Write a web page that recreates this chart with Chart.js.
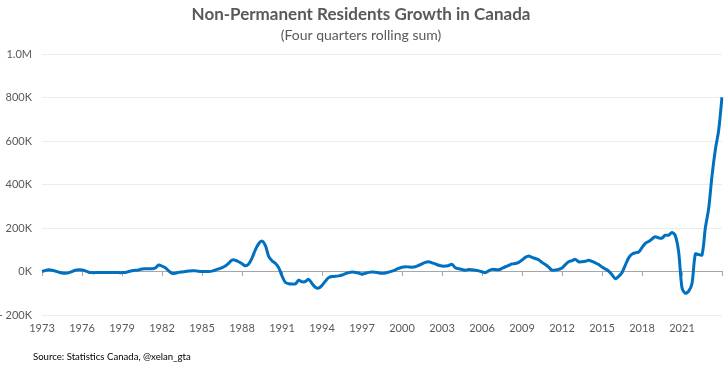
<!DOCTYPE html>
<html>
<head>
<meta charset="utf-8">
<script src="https://cdn.jsdelivr.net/npm/chart.js@4"></script>
<style>
  body { margin: 0; background: #fff; }
  #wrap { position: relative; width: 725px; height: 373px; }
  #source { position: absolute; left: 33px; top: 351px; font: 9.6px Lato, "Open Sans", sans-serif; color: #000; }
</style>
</head>
<body>
<div id="wrap">
  <canvas id="chart" width="725" height="373"></canvas>
  <div id="source">Source: Statistics Canada, @xelan_gta</div>
</div>
<script>
// quarterly data, first quarter of 1973 onwards
const startYear = 1973;

// tick labels on the x axis (every 12 quarters)
const tickYears = ['1973', '1976', '1979', '1982', '1985', '1988', '1991', '1994', '1997',
  '2000', '2003', '2006', '2009', '2012', '2015', '2018', '2021'];

// four quarters rolling sum of non-permanent residents, thousands
const nprGrowth = [
  0, 5, 8, 6, 2, -3, -7, -8, -6, 0,
  6, 8, 7, 3, -3, -5, -5, -5, -5, -5,
  -5, -5, -5, -5, -5, -4, 0, 4, 6, 7,
  12, 13, 13, 13, 16, 30, 25, 17, 3, -8,
  -8, -4, -2, 0, 2, 4, 3, 1, 0, 0,
  0, 2, 7, 12, 18, 25, 38, 53, 52, 45,
  36, 27, 35, 62, 100, 128, 140, 120, 70, 50,
  38, 18, -20, -50, -56, -57, -57, -40, -47, -46,
  -36, -55, -72, -76, -64, -45, -28, -23, -22, -20,
  -16, -10, -5, -2, -4, -7, -12, -8, -4, -2,
  -3, -6, -8, -7, -3, 2, 8, 15, 20, 22,
  21, 20, 22, 28, 35, 42, 45, 40, 35, 29,
  25, 25, 28, 33, 17, 13, 9, 6, 9, 8,
  6, 3, -1, -5, 3, 10, 9, 8, 15, 22,
  28, 35, 37, 42, 53, 65, 71, 65, 60, 54,
  42, 32, 20, 6, 7, 10, 16, 32, 45, 50,
  56, 45, 45, 47, 52, 47, 40, 32, 21, 12,
  2, -15, -33, -22, -5, 30, 63, 80, 86, 90,
  110, 130, 138, 150, 160, 155, 154, 167, 167, 180,
  165, 90, -75, -100, -90, -55, 80, 78, 76, 200,
  290, 440, 560, 650, 802
];

const quarters = nprGrowth.map((v, i) => (startYear + Math.floor(i / 4)) + ' Q' + (i % 4 + 1));

const font = 'Lato, "Open Sans", sans-serif';
const grey = '#595959';

function yLabel(v) {
  if (v >= 1000) return (v / 1000).toFixed(1) + 'M';
  if (v < 0) return '- ' + Math.abs(v) + 'K';
  return v + 'K';
}

new Chart(document.getElementById('chart'), {
  type: 'line',
  data: {
    labels: quarters,
    datasets: [{
      data: nprGrowth,
      borderColor: '#0070C0',
      borderWidth: 3,
      pointRadius: 0,
      tension: 0.3,
      fill: false
    }]
  },
  options: {
    responsive: false,
    animation: false,
    layout: { padding: { top: 0, right: 3, bottom: 36, left: 0 } },
    plugins: {
      legend: { display: false },
      tooltip: { enabled: false },
      title: {
        display: true,
        text: 'Non-Permanent Residents Growth in Canada',
        color: grey,
        font: { family: font, size: 17, weight: 'bold' },
        padding: { top: 4, bottom: 3 }
      },
      subtitle: {
        display: true,
        text: '(Four quarters rolling sum)',
        color: grey,
        font: { family: font, size: 14 },
        padding: { top: 0, bottom: 10 }
      }
    },
    scales: {
      x: {
        afterFit: (s) => { s.height = 22; },
        grid: { display: false, drawTicks: false },
        border: { display: false },
        ticks: {
          autoSkip: false,
          maxRotation: 0,
          padding: 7,
          color: grey,
          font: { family: font, size: 11 },
          callback: (v, i) => (i % 12 === 0 ? tickYears[i / 12] : null)
        }
      },
      xZero: {
        type: 'category',
        position: { y: 0 },
        grid: {
          drawOnChartArea: false,
          drawTicks: true,
          tickLength: 4,
          tickColor: (ctx) => (ctx.index % 12 === 0 ? '#a6a6a6' : 'rgba(0,0,0,0)')
        },
        border: { display: true, color: '#a6a6a6', width: 1 },
        ticks: { display: false, autoSkip: false }
      },
      y: {
        min: -200,
        max: 1000,
        afterFit: (s) => { s.width = 42; },
        grid: { color: '#ececec', drawTicks: false },
        border: { display: false },
        ticks: {
          stepSize: 200,
          padding: 10,
          color: grey,
          font: { family: font, size: 11 },
          callback: yLabel
        }
      }
    }
  }
});
</script>
</body>
</html>
